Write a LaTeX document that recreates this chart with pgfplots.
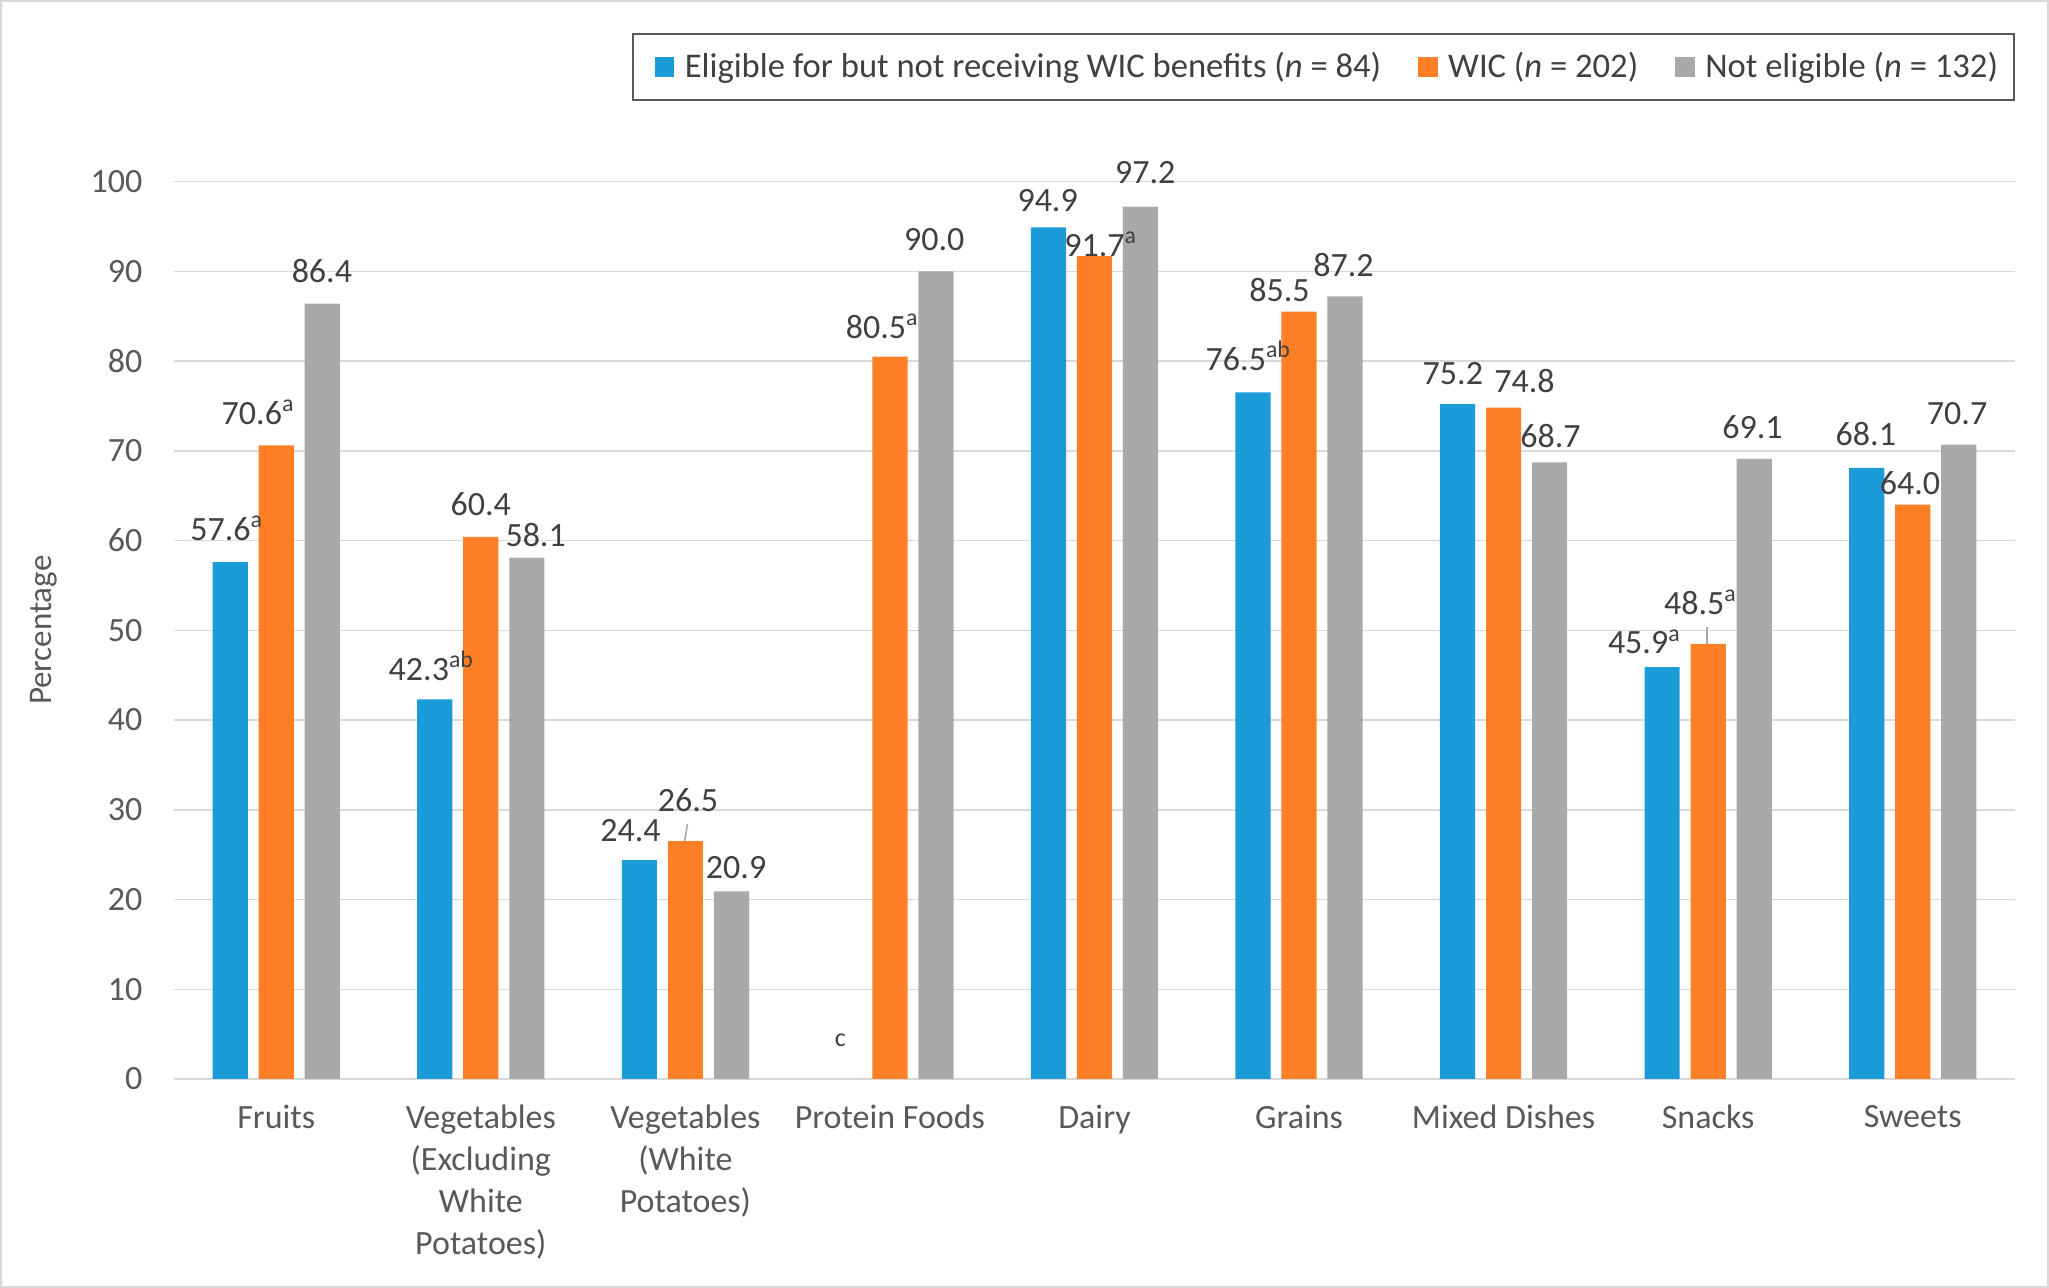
\documentclass[border=0pt]{standalone}
\usepackage{fontspec}
\setmainfont{Carlito}
\usepackage{pgfplots}
\pgfplotsset{compat=1.18}
\definecolor{cblue}{HTML}{1B9CD8}
\definecolor{corange}{HTML}{FF7F27}
\definecolor{cgrey}{HTML}{A9A9A9}
\definecolor{gridc}{HTML}{D9D9D9}
\definecolor{txt}{HTML}{404040}
\definecolor{tickc}{HTML}{595959}
\tikzset{lbl/.style={anchor=base, font=\fontsize{17}{20}\selectfont, text=txt, inner sep=0pt}}
\begin{document}
\begin{tikzpicture}
\begin{axis}[
  at={(87pt,104.5pt)}, anchor=south west,
  width=920.5pt, height=448.7pt, scale only axis,
  xmin=-0.5, xmax=8.5, ymin=0, ymax=100,
  clip=false,
  ytick={0,10,...,100},
  xtick={0,...,8},
  xticklabels={Fruits, {Vegetables\\(Excluding\\White\\Potatoes)}, {Vegetables\\(White\\Potatoes)}, Protein Foods, Dairy, Grains, Mixed Dishes, Snacks, Sweets},
  ymajorgrids, grid style={gridc, line width=0.75pt},
  axis line style={draw=none},
  tick style={draw=none},
  /pgf/number format/assume math mode=true,
  yticklabel style={font=\fontsize{17}{20}\selectfont, text=tickc, xshift=-12.3pt},
  xticklabel style={font=\fontsize{17}{20.9}\selectfont, text=tickc, align=center, anchor=north, yshift=-9.6pt},
  ylabel={Percentage},
  ylabel style={at={(axis description cs:-0.0705,0.5)}, anchor=center, font=\fontsize{16.5}{18}\selectfont, text=tickc},
  legend columns=3,
  legend image code/.code={\path (-5pt,0pt) (13.1pt,0pt); \fill[#1,draw=none] (0pt,-4.9pt) rectangle (9.8pt,4.9pt);},
  legend style={at={(1,1.166)}, anchor=north east, draw=tickc, line width=1pt,
    font=\fontsize{17.3}{20}\selectfont, text=txt, inner xsep=6pt, inner ysep=7.5pt,
    /tikz/every even column/.append style={column sep=11.4pt}},
]
\addplot[ybar, fill=cblue, draw=none, bar width=0.172, bar shift=-0.225]
  coordinates {(0,57.6) (1,42.3) (2,24.4) (4,94.9) (5,76.5) (6,75.2) (7,45.9) (8,68.1)};
\addlegendentry{Eligible for but not receiving WIC benefits (\textit{n} = 84)\hspace{9.8pt}}
\addplot[ybar, fill=corange, draw=none, bar width=0.172, bar shift=0]
  coordinates {(0,70.6) (1,60.4) (2,26.5) (3,80.5) (4,91.7) (5,85.5) (6,74.8) (7,48.5) (8,64.0)};
\addlegendentry{WIC (\textit{n} = 202)}
\addplot[ybar, fill=cgrey, draw=none, bar width=0.172, bar shift=0.225]
  coordinates {(0,86.4) (1,58.1) (2,20.9) (3,90.0) (4,97.2) (5,87.2) (6,68.7) (7,69.1) (8,70.7)};
\addlegendentry{Not eligible (\textit{n} = 132)}

\draw[cgrey, line width=0.8pt] (axis cs:2.010,28.4) -- (axis cs:1.996,26.5);
\draw[cgrey, line width=0.8pt] (axis cs:6.995,50.4) -- (axis cs:6.995,48.5);

\node[lbl] at (axis cs:-0.242,60.06) {57.6\textsuperscript{a}};
\node[lbl] at (axis cs:-0.089,72.96) {70.6\textsuperscript{a}};
\node[lbl] at (axis cs:0.223,88.76) {86.4};
\node[lbl] at (axis cs:0.758,44.46) {42.3\textsuperscript{ab}};
\node[lbl] at (axis cs:1.0,62.76) {60.4};
\node[lbl] at (axis cs:1.268,59.31) {58.1};
\node[lbl] at (axis cs:1.732,26.46) {24.4};
\node[lbl] at (axis cs:2.013,29.86) {26.5};
\node[lbl] at (axis cs:2.248,22.36) {20.9};
\node[lbl, font=\fontsize{13}{15}\selectfont] at (axis cs:2.758,3.6) {c};
\node[lbl] at (axis cs:2.962,82.56) {80.5\textsuperscript{a}};
\node[lbl] at (axis cs:3.217,92.36) {90.0};
\node[lbl] at (axis cs:3.771,96.72) {94.9};
\node[lbl] at (axis cs:4.03,91.66) {91.7\textsuperscript{a}};
\node[lbl] at (axis cs:4.248,99.76) {97.2};
\node[lbl] at (axis cs:4.752,78.96) {76.5\textsuperscript{ab}};
\node[lbl] at (axis cs:4.904,86.66) {85.5};
\node[lbl] at (axis cs:5.217,89.46) {87.2};
\node[lbl] at (axis cs:5.752,77.36) {75.2};
\node[lbl] at (axis cs:6.102,76.46) {74.8};
\node[lbl] at (axis cs:6.229,70.36) {68.7};
\node[lbl] at (axis cs:6.688,47.36) {45.9\textsuperscript{a}};
\node[lbl] at (axis cs:6.962,51.76) {48.5\textsuperscript{a}};
\node[lbl] at (axis cs:7.217,71.36) {69.1};
\node[lbl] at (axis cs:7.771,70.56) {68.1};
\node[lbl] at (axis cs:7.987,65.16) {64.0};
\node[lbl] at (axis cs:8.217,72.96) {70.7};
\end{axis}
\pgfresetboundingbox
\draw[gridc, line width=1pt] (0.5pt,0.5pt) rectangle (1024pt,643.5pt);
\end{tikzpicture}
\end{document}
